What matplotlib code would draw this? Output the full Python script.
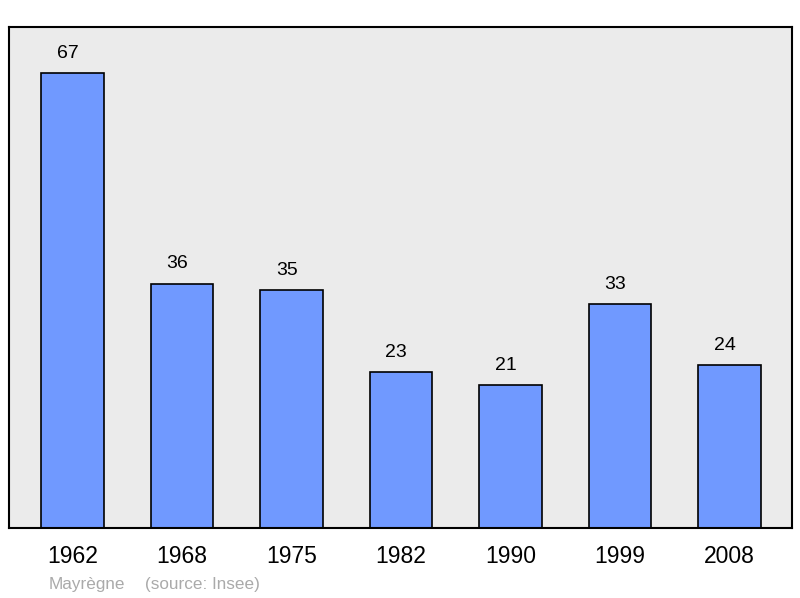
import matplotlib
matplotlib.use("Agg")
import matplotlib.pyplot as plt

years = ["1962", "1968", "1975", "1982", "1990", "1999", "2008"]
values = [67, 36, 35, 23, 21, 33, 24]

plt.rcParams['font.family'] = ['Liberation Sans', 'DejaVu Sans']
W, H = 800, 598
fig = plt.figure(figsize=(W/100, H/100), dpi=100)
ax = fig.add_axes([9/W, 1-528/H, (792-9)/W, (528-27)/H])
ax.set_facecolor('#ebebeb')
x = list(range(len(years)))
ax.bar(x, values, width=0.575, color='#7099ff', edgecolor='#000000', linewidth=1.2, zorder=2)
for xi, v in zip(x, values):
    ax.annotate(str(v), (xi, v), xytext=(-3.5, 8), textcoords='offset points',
                ha='center', va='bottom', fontsize=14, color='#000000')
ax.set_xlim(-0.58, 6.571)
ax.set_ylim(0, 73.77)
ax.set_yticks([])
ax.set_xticks(x)
ax.set_xticklabels(years, fontsize=16.5)
ax.tick_params(axis='x', length=0, pad=12.5)
for s in ax.spines.values():
    s.set_linewidth(1.5)
    s.set_color('#000000')
fig.text(49/W, 1-584/H, "Mayrègne", fontsize=12.3, color='#aaaaaa', va='center', ha='left')
fig.text(145/W, 1-584/H, "(source: Insee)", fontsize=12.3, color='#aaaaaa', va='center', ha='left')
fig.savefig("out.png", dpi=100, facecolor='white')
